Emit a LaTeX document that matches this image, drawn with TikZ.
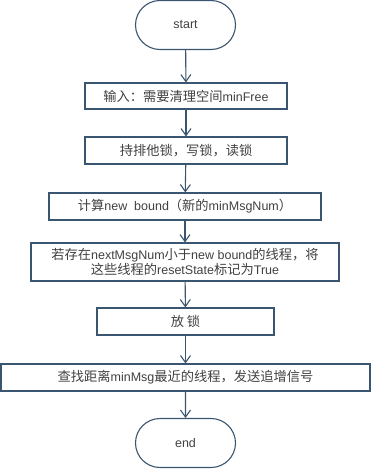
\documentclass[tikz,border=0pt]{standalone}
\usepackage{fontspec}
\setmainfont{Liberation Sans}
\newfontfamily\cjk{Noto Sans CJK SC}[Scale=1.06]
\usetikzlibrary{shapes.misc,arrows.meta}
\definecolor{flowline}{HTML}{3A556F}
\definecolor{flowtext}{HTML}{404040}
\tikzset{
  stepbox/.style={draw=flowline, line width=1.1pt, rectangle, text=flowtext,
    font=\fontsize{12.5}{15}\selectfont, align=center, inner sep=0pt},
  termbox/.style={draw=flowline, line width=1.1pt, rounded rectangle, text=flowtext,
    font=\fontsize{12.5}{15}\selectfont, minimum width=100pt, minimum height=49pt, inner sep=0pt},
  flow/.style={draw=flowline, line width=1.1pt, -{Straight Barb[length=7pt,width=10pt]}}
}
\begin{document}
\begin{tikzpicture}[x=1pt,y=-1pt]
  \useasboundingbox (0,0) rectangle (371,469);

  % terminals and steps
  \node[termbox] (start) at (185.5,25) {start};
  \node[stepbox, minimum width=202pt, minimum height=26pt] (input) at (186,96)
    {{\cjk 输入：需要清理空间}minFree};
  \node[stepbox, minimum width=202pt, minimum height=27pt] (lock) at (186,150.5)
    {\cjk 持排他锁，写锁，读锁};
  \node[stepbox, minimum width=272pt, minimum height=27pt] (bound) at (185,206.5)
    {{\cjk 计算}new\ \ bound{\cjk （新的}minMsgNum{\cjk ）}};
  \node[stepbox, minimum width=308pt, minimum height=38pt] (reset) at (185,262)
    {{\cjk 若存在}nextMsgNum{\cjk 小于}new bound{\cjk 的线程，将}\\
     {\cjk 这些线程的}resetState{\cjk 标记为}True};
  \node[stepbox, minimum width=177pt, minimum height=27pt] (unlock) at (185.5,321.5)
    {\cjk 放 锁};
  \node[stepbox, minimum width=369pt, minimum height=27pt] (signal) at (185.5,377.5)
    {{\cjk 查找距离}minMsg{\cjk 最近的线程，发送追增信号}};
  \node[termbox] (end) at (185.5,443) {end};

  % connectors
  \draw[flow] (start) -- (input);
  \draw[flow] (input) -- (lock);
  \draw[flow] (lock) -- (bound);
  \draw[flow] (bound) -- (reset);
  \draw[flow] (reset) -- (unlock);
  \draw[flow] (unlock) -- (signal);
  \draw[flow] (signal) -- (end);
\end{tikzpicture}
\end{document}
